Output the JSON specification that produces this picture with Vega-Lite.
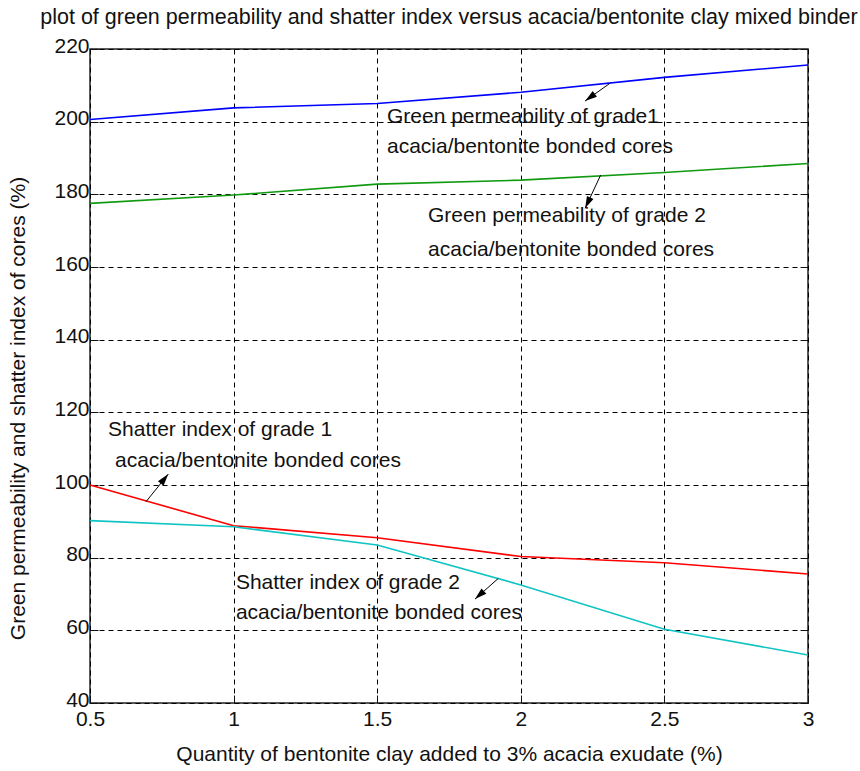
{
  "$schema": "https://vega.github.io/schema/vega-lite/v6.json",
  "width": 718,
  "height": 654,
  "autosize": {"type": "none"},
  "padding": {"left": 90, "top": 49, "right": 52, "bottom": 68},
  "background": "white",
  "config": {"view": {"stroke": "#222", "strokeWidth": 1.5}, "font": "Liberation Sans"},
  "title": {
    "text": "plot of green permeability and shatter index versus acacia/bentonite clay mixed binder",
    "font": "Liberation Sans", "fontSize": 21.5, "fontWeight": "normal", "color": "#111",
    "anchor": "middle", "baseline": "alphabetic", "offset": 0, "dy": 10
  },
  "datasets": {
    "lines": [
      {"series": "Green permeability grade 1", "q": 0.5, "v": 200.6},
      {"series": "Green permeability grade 1", "q": 1.0, "v": 203.8},
      {"series": "Green permeability grade 1", "q": 1.5, "v": 205.0},
      {"series": "Green permeability grade 1", "q": 2.0, "v": 208.1},
      {"series": "Green permeability grade 1", "q": 2.5, "v": 212.2},
      {"series": "Green permeability grade 1", "q": 3.0, "v": 215.6},
      {"series": "Green permeability grade 2", "q": 0.5, "v": 177.5},
      {"series": "Green permeability grade 2", "q": 1.0, "v": 179.8},
      {"series": "Green permeability grade 2", "q": 1.5, "v": 182.8},
      {"series": "Green permeability grade 2", "q": 2.0, "v": 183.9},
      {"series": "Green permeability grade 2", "q": 2.5, "v": 186.0},
      {"series": "Green permeability grade 2", "q": 3.0, "v": 188.5},
      {"series": "Shatter index grade 1", "q": 0.5, "v": 100.0},
      {"series": "Shatter index grade 1", "q": 1.0, "v": 88.8},
      {"series": "Shatter index grade 1", "q": 1.5, "v": 85.5},
      {"series": "Shatter index grade 1", "q": 2.0, "v": 80.3},
      {"series": "Shatter index grade 1", "q": 2.5, "v": 78.6},
      {"series": "Shatter index grade 1", "q": 3.0, "v": 75.5},
      {"series": "Shatter index grade 2", "q": 0.5, "v": 90.2},
      {"series": "Shatter index grade 2", "q": 1.0, "v": 88.5},
      {"series": "Shatter index grade 2", "q": 1.5, "v": 83.5},
      {"series": "Shatter index grade 2", "q": 2.0, "v": 72.5},
      {"series": "Shatter index grade 2", "q": 2.5, "v": 60.3},
      {"series": "Shatter index grade 2", "q": 3.0, "v": 53.2}
    ],
    "labels": [
      {"q": 1.534, "v": 201.3, "text": "Green permeability of grade1"},
      {"q": 1.534, "v": 193.0, "text": "acacia/bentonite bonded cores"},
      {"q": 1.677, "v": 174.0, "text": "Green permeability of grade 2"},
      {"q": 1.677, "v": 164.7, "text": "acacia/bentonite bonded cores"},
      {"q": 0.563, "v": 115.1, "text": "Shatter index of grade 1"},
      {"q": 0.587, "v": 106.6, "text": "acacia/bentonite bonded cores"},
      {"q": 1.008, "v": 73.1, "text": "Shatter index of grade 2"},
      {"q": 1.008, "v": 64.7, "text": "acacia/bentonite bonded cores"}
    ],
    "arrows": [
      {"id": 1, "q": 2.311, "v": 210.6, "q2": 2.224, "v2": 205.7},
      {"id": 2, "q": 2.278, "v": 185.3, "q2": 2.224, "v2": 176.15},
      {"id": 3, "q": 0.695, "v": 95.4, "q2": 0.7726, "v2": 103.0},
      {"id": 4, "q": 1.9217, "v": 74.3, "q2": 1.8405, "v2": 68.6}
    ]
  },
  "layer": [
    {
      "data": {"name": "lines"},
      "mark": {"type": "line", "strokeWidth": 1.6},
      "encoding": {
        "x": {
          "field": "q", "type": "quantitative",
          "scale": {"domain": [0.5, 3], "nice": false, "zero": false},
          "axis": {
            "values": [0.5, 1, 1.5, 2, 2.5, 3], "format": "~g",
            "title": "Quantity of bentonite clay added to 3% acacia exudate (%)",
            "titleFont": "Liberation Sans", "titleFontSize": 21, "titleFontWeight": "normal",
            "titleColor": "#111", "titleBaseline": "alphabetic", "titleY": 57,
            "labelFont": "Liberation Sans", "labelFontSize": 21, "labelColor": "#111",
            "labelPadding": 13, "labelFlush": false, "labelOverlap": false,
            "domain": false, "ticks": true, "tickSize": -8, "tickColor": "#111",
            "grid": true, "gridColor": "#000", "gridOpacity": 1, "gridDash": [5, 4], "gridWidth": 1
          }
        },
        "y": {
          "field": "v", "type": "quantitative",
          "scale": {"domain": [40, 220], "nice": false, "zero": false},
          "axis": {
            "values": [40, 60, 80, 100, 120, 140, 160, 180, 200, 220],
            "title": "Green permeability and shatter index of cores (%)",
            "titleFont": "Liberation Sans", "titleFontSize": 21, "titleFontWeight": "normal",
            "titleColor": "#111", "titleX": -62, "titleY": 359, "titleBaseline": "bottom",
            "labelFont": "Liberation Sans", "labelFontSize": 21, "labelColor": "#111",
            "labelPadding": 9, "labelOffset": -3, "labelOverlap": false,
            "domain": false, "ticks": true, "tickSize": -8, "tickColor": "#111",
            "grid": true, "gridColor": "#000", "gridOpacity": 1, "gridDash": [5, 4], "gridWidth": 1
          }
        },
        "color": {
          "field": "series", "type": "nominal", "legend": null,
          "scale": {
            "domain": ["Green permeability grade 1", "Green permeability grade 2", "Shatter index grade 1", "Shatter index grade 2"],
            "range": ["#0000FF", "#109A10", "#FF0000", "#10C4C4"]
          }
        }
      }
    },
    {
      "data": {"name": "labels"},
      "mark": {"type": "text", "align": "left", "baseline": "middle", "font": "Liberation Sans", "fontSize": 21, "color": "#111"},
      "encoding": {
        "x": {"field": "q", "type": "quantitative", "axis": null},
        "y": {"field": "v", "type": "quantitative",
          "axis": {"orient": "right", "labels": false, "title": null, "grid": false, "domain": false, "ticks": true, "tickSize": -8, "tickColor": "#111", "values": [40, 60, 80, 100, 120, 140, 160, 180, 200, 220]}},
        "text": {"field": "text"}
      }
    },
    {
      "data": {"name": "arrows"},
      "mark": {"type": "rule", "color": "#000", "strokeWidth": 1},
      "encoding": {
        "x": {"field": "q", "type": "quantitative", "axis": null},
        "y": {"field": "v", "type": "quantitative", "axis": null},
        "x2": {"field": "q2"},
        "y2": {"field": "v2"}
      }
    },
    {
      "data": {"name": "arrows"},
      "transform": [{"filter": "datum.id == 1"}],
      "mark": {"type": "point", "shape": "M0,0L-0.3,1L0.3,1Z", "filled": true, "color": "#000", "size": 576, "opacity": 1, "angle": 234},
      "encoding": {
        "x": {"field": "q2", "type": "quantitative", "axis": null},
        "y": {"field": "v2", "type": "quantitative", "axis": null}
      }
    },
    {
      "data": {"name": "arrows"},
      "transform": [{"filter": "datum.id == 2"}],
      "mark": {"type": "point", "shape": "M0,0L-0.3,1L0.3,1Z", "filled": true, "color": "#000", "size": 576, "opacity": 1, "angle": 205},
      "encoding": {
        "x": {"field": "q2", "type": "quantitative", "axis": null},
        "y": {"field": "v2", "type": "quantitative", "axis": null}
      }
    },
    {
      "data": {"name": "arrows"},
      "transform": [{"filter": "datum.id == 3"}],
      "mark": {"type": "point", "shape": "M0,0L-0.3,1L0.3,1Z", "filled": true, "color": "#000", "size": 576, "opacity": 1, "angle": 39},
      "encoding": {
        "x": {"field": "q2", "type": "quantitative", "axis": null},
        "y": {"field": "v2", "type": "quantitative", "axis": null}
      }
    },
    {
      "data": {"name": "arrows"},
      "transform": [{"filter": "datum.id == 4"}],
      "mark": {"type": "point", "shape": "M0,0L-0.3,1L0.3,1Z", "filled": true, "color": "#000", "size": 576, "opacity": 1, "angle": 228},
      "encoding": {
        "x": {"field": "q2", "type": "quantitative", "axis": null},
        "y": {"field": "v2", "type": "quantitative", "axis": null}
      }
    }
  ],
  "resolve": {"axis": {"x": "independent", "y": "independent"}}
}
